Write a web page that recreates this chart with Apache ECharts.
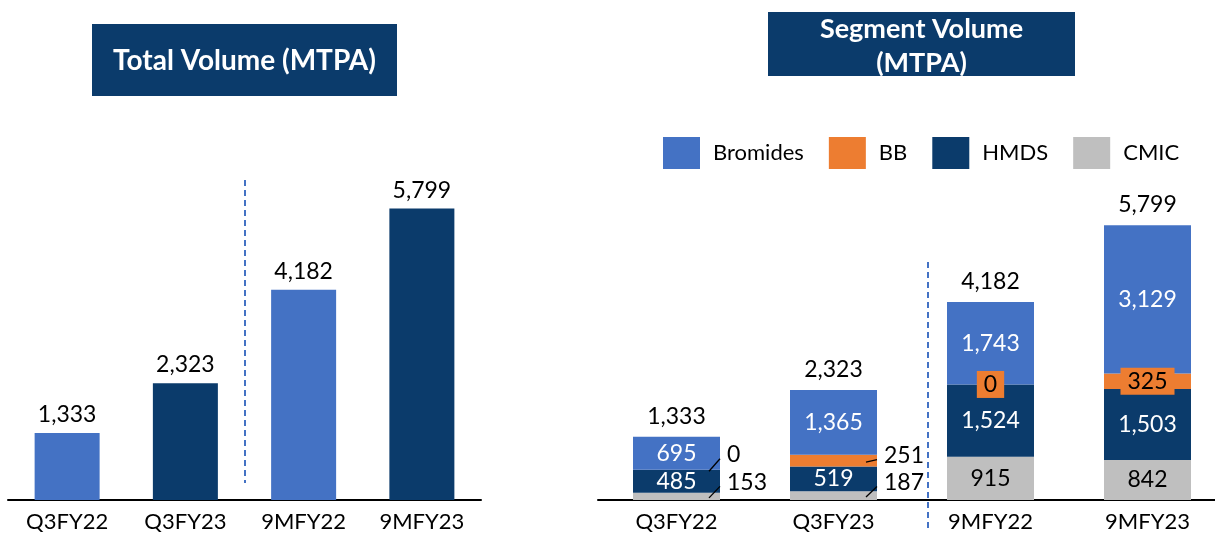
<!DOCTYPE html>
<html>
<head>
<meta charset="utf-8">
<script src="https://cdn.jsdelivr.net/npm/echarts@6/dist/echarts.min.js"></script>
<style>
  html, body { margin: 0; padding: 0; background: #fff; }
  #chart { width: 1215px; height: 535px; }
</style>
</head>
<body>
<div id="chart"></div>
<script>
// data
const categories = ['Q3FY22', 'Q3FY23', '9MFY22', '9MFY23'];
const totalVolume = [1333, 2323, 4182, 5799];
const bromides = [695, 1365, 1743, 3129];
const bb = [0, 251, 0, 325];
const hmds = [485, 519, 1524, 1503];
const cmic = [153, 187, 915, 842];

const BLUE = '#4472C4';
const NAVY = '#0B3B6B';
const ORANGE = '#ED7D31';
const GREY = '#BFBFBF';
const FONT = 'Lato';
const SEG_BAR = 87;

const chart = echarts.init(document.getElementById('chart'));

const fmt = p => Number(p.value).toLocaleString('en-US');
const labelBase = { show: true, fontFamily: FONT, fontSize: 23, formatter: fmt };

// small segments: label sits right of the bar, tied back with a short leader
const outside = {
  CMIC: { 0: -14, 1: -13 },
  BB: { 0: -15, 1: -5 }
};

function withOutside(name, values) {
  return values.map((v, i) => {
    if (outside[name][i] === undefined) return v;
    return {
      value: v,
      label: {
        position: 'right', distance: 7, color: '#000',
        offset: [0, outside[name][i]], backgroundColor: 'transparent', padding: 0
      }
    };
  });
}

// leader line items: [category, segment base, segment value, label offset]
const leaders = [];
[['CMIC', cmic, () => 0], ['BB', bb, i => cmic[i] + hmds[i]]].forEach(([name, arr, baseOf]) => {
  Object.keys(outside[name]).forEach(k => {
    const i = +k;
    leaders.push([i, baseOf(i), arr[i], outside[name][i]]);
  });
});

const option = {
  animation: false,
  textStyle: { fontFamily: FONT },
  grid: [
    { left: 8, width: 473, top: 98, height: 402 },
    // runs a little past the right edge, like the original slide
    { left: 598, width: 628, top: 121, height: 379, outerBoundsMode: 'none' }
  ],
  xAxis: [0, 1].map(g => ({
    type: 'category',
    gridIndex: g,
    data: categories,
    axisTick: { show: false },
    axisLine: { lineStyle: { color: '#000', width: 2 } },
    axisLabel: { color: '#000', fontSize: 22, fontFamily: FONT, margin: 11 }
  })),
  yAxis: [0, 1].map(g => ({
    type: 'value',
    gridIndex: g,
    min: 0,
    max: 8000,
    show: false,
    splitLine: { show: false }
  })),
  legend: {
    data: ['Bromides', 'BB', 'HMDS', 'CMIC'],
    left: 663,
    top: 137,
    padding: 0,
    icon: 'rect',
    itemWidth: 37,
    itemHeight: 32,
    itemGap: 25,
    textStyle: { fontSize: 22, color: '#000', fontFamily: FONT, padding: [0, 0, 0, 8] }
  },
  series: [
    {
      name: 'Total',
      type: 'bar',
      xAxisIndex: 0,
      yAxisIndex: 0,
      barWidth: 65,
      data: totalVolume,
      itemStyle: { color: p => (p.dataIndex % 2 ? NAVY : BLUE) },
      label: Object.assign({}, labelBase, { position: 'top', color: '#000', distance: 7 })
    },
    {
      name: 'CMIC',
      type: 'bar',
      stack: 'seg',
      xAxisIndex: 1,
      yAxisIndex: 1,
      barWidth: SEG_BAR,
      itemStyle: { color: GREY },
      label: Object.assign({}, labelBase, { position: 'inside', color: '#000' }),
      data: withOutside('CMIC', cmic)
    },
    {
      name: 'HMDS',
      type: 'bar',
      stack: 'seg',
      xAxisIndex: 1,
      yAxisIndex: 1,
      itemStyle: { color: NAVY },
      label: Object.assign({}, labelBase, { position: 'inside', color: '#fff' }),
      data: hmds
    },
    {
      name: 'BB',
      type: 'bar',
      stack: 'seg',
      xAxisIndex: 1,
      yAxisIndex: 1,
      itemStyle: { color: ORANGE },
      label: Object.assign({}, labelBase, {
        position: 'inside', color: '#000', backgroundColor: ORANGE, padding: [3, 7, 1, 7]
      }),
      data: withOutside('BB', bb)
    },
    {
      name: 'Bromides',
      type: 'bar',
      stack: 'seg',
      xAxisIndex: 1,
      yAxisIndex: 1,
      itemStyle: { color: BLUE },
      label: Object.assign({}, labelBase, { position: 'inside', color: '#fff' }),
      data: bromides
    },
    {
      // invisible bar over each stack, only carries the total label
      name: 'Segment total',
      type: 'bar',
      xAxisIndex: 1,
      yAxisIndex: 1,
      barGap: '-100%',
      barWidth: SEG_BAR,
      z: 1,
      itemStyle: { color: 'rgba(0,0,0,0)' },
      label: Object.assign({}, labelBase, { position: 'top', color: '#000', distance: 9 }),
      data: totalVolume
    },
    {
      name: 'Leaders',
      type: 'custom',
      xAxisIndex: 1,
      yAxisIndex: 1,
      silent: true,
      z: 10,
      data: leaders,
      renderItem: (params, api) => {
        const mid = api.coord([api.value(0), api.value(1) + api.value(2) / 2]);
        const right = mid[0] + SEG_BAR / 2;
        const labelY = mid[1] + api.value(3);
        return {
          type: 'line',
          shape: { x1: right - 11, y1: mid[1] + 1.5, x2: right, y2: labelY + 4 },
          style: { stroke: '#000', lineWidth: 1.3 }
        };
      }
    }
  ],
  graphic: [
    { type: 'rect', shape: { x: 92, y: 24, width: 305, height: 72 }, style: { fill: NAVY } },
    {
      type: 'text', x: 244.5, y: 61,
      style: { text: 'Total Volume (MTPA)', fill: '#fff', font: 'bold 28px ' + FONT, align: 'center', verticalAlign: 'middle' }
    },
    { type: 'rect', shape: { x: 768, y: 12, width: 307, height: 64 }, style: { fill: NAVY } },
    {
      type: 'text', x: 921.5, y: 46,
      style: { text: 'Segment Volume\n(MTPA)', fill: '#fff', font: 'bold 27px ' + FONT, lineHeight: 34, align: 'center', verticalAlign: 'middle' }
    },
    { type: 'line', shape: { x1: 245, y1: 180, x2: 245, y2: 483 }, style: { stroke: BLUE, lineWidth: 2, lineDash: [6, 4] } },
    { type: 'line', shape: { x1: 928, y1: 262, x2: 928, y2: 530 }, style: { stroke: BLUE, lineWidth: 2, lineDash: [6, 4] } }
  ]
};

chart.setOption(option);
</script>
</body>
</html>
